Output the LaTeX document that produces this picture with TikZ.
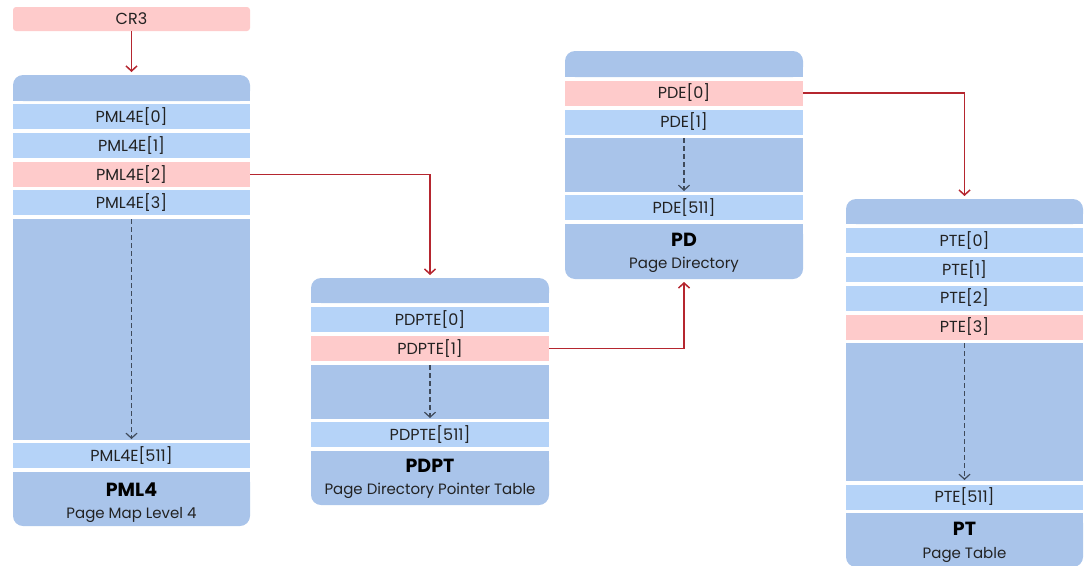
\documentclass[tikz,border=0pt]{standalone}
\usepackage{fontspec}
\setmainfont{Poppins}
\usetikzlibrary{arrows.meta}
\definecolor{hdr}{HTML}{A9C4EA}
\definecolor{ent}{HTML}{B5D3F8}
\definecolor{sel}{HTML}{FECBCB}
\definecolor{lnk}{HTML}{B5262F}
\definecolor{dsh}{HTML}{3F4A5A}
\definecolor{txt}{HTML}{222222}
\begin{document}
\begin{tikzpicture}[x=1pt,y=-1pt,
  cell/.style={inner sep=0pt, outer sep=0pt, text=txt, font=\fontsize{16}{18}\selectfont},
  entry/.style={cell, fill=ent, minimum height=25pt},
  pick/.style={cell, fill=sel, minimum height=25pt},
  gapbox/.style={cell, fill=hdr},
  headbox/.style={cell, fill=hdr, rounded corners=10pt},
  footbox/.style={cell, fill=hdr, rounded corners=10pt},
  title/.style={text=black, inner sep=0pt, font=\fontsize{19}{21}\selectfont\bfseries},
  subtitle/.style={text=txt, inner sep=0pt, font=\fontsize{15}{17}\selectfont},
  link/.style={draw=lnk, line width=1.5pt, -{Straight Barb[length=5pt,width=11pt,line width=1.5pt]}},
  dots/.style={draw=dsh, line width=1.2pt, dash pattern=on 5pt off 3pt, -{Straight Barb[length=5pt,width=11pt,line width=1.2pt]}}
]
\useasboundingbox (0,0) rectangle (1089,565);

% CR3
\node[pick, rounded corners=3pt, minimum width=237pt, minimum height=24pt] (cr3) at (131.5,19) {CR3};

% PML4
\begin{scope}[every node/.append style={minimum width=237pt}]
\node[headbox, minimum height=26pt] (pml4h) at (131.5,88) {};
\fill[hdr] (pml4h.west) rectangle (pml4h.south east);
\node[entry] (pml4e0) at (131.5,116.5) {PML4E[0]};
\node[entry] (pml4e1) at (131.5,145.5) {PML4E[1]};
\node[pick]  (pml4e2) at (131.5,174.5) {PML4E[2]};
\node[entry] (pml4e3) at (131.5,202.5) {PML4E[3]};
\node[gapbox, minimum height=221pt] (pml4g) at (131.5,329.5) {};
\node[entry] (pml4e511) at (131.5,455.5) {PML4E[511]};
\node[footbox, minimum height=54pt] (pml4f) at (131.5,499) {};
\end{scope}
\fill[hdr] (pml4f.north west) rectangle (pml4f.east);
\node[title] (pml4t) at ([yshift=9pt]pml4f.center) {PML4};
\node[subtitle] (pml4s) at ([yshift=-16pt]pml4f.center) {Page Map Level 4};

% PDPT
\begin{scope}[every node/.append style={minimum width=238pt}]
\node[headbox, minimum height=25pt] (pdpth) at (430,290.5) {};
\fill[hdr] (pdpth.west) rectangle (pdpth.south east);
\node[entry] (pdpte0) at (430,319.5) {PDPTE[0]};
\node[pick]  (pdpte1) at (430,348.5) {PDPTE[1]};
\node[gapbox, minimum height=54pt] (pdptg) at (430,392) {};
\node[entry] (pdpte511) at (430,434.5) {PDPTE[511]};
\node[footbox, minimum height=54pt] (pdptf) at (430,478) {};
\end{scope}
\fill[hdr] (pdptf.north west) rectangle (pdptf.east);
\node[title] (pdptt) at ([yshift=12pt]pdptf.center) {PDPT};
\node[subtitle] (pdpts) at ([yshift=-12.5pt]pdptf.center) {Page Directory Pointer Table};

% PD
\begin{scope}[every node/.append style={minimum width=238pt}]
\node[headbox, minimum height=26pt] (pdh) at (684,64) {};
\fill[hdr] (pdh.west) rectangle (pdh.south east);
\node[pick]  (pde0) at (684,93) {PDE[0]};
\node[entry] (pde1) at (684,122) {PDE[1]};
\node[gapbox, minimum height=54pt] (pdg) at (684,165) {};
\node[entry] (pde511) at (684,207.5) {PDE[511]};
\node[footbox, minimum height=55pt] (pdf) at (684,251.5) {};
\end{scope}
\fill[hdr] (pdf.north west) rectangle (pdf.east);
\node[title] (pdt) at ([yshift=11.5pt]pdf.center) {PD};
\node[subtitle] (pds) at ([yshift=-13.5pt]pdf.center) {Page Directory};

% PT
\begin{scope}[every node/.append style={minimum width=237pt}]
\node[headbox, minimum height=25pt] (pth) at (964.5,211.5) {};
\fill[hdr] (pth.west) rectangle (pth.south east);
\node[entry] (pte0) at (964.5,240.5) {PTE[0]};
\node[entry] (pte1) at (964.5,269.5) {PTE[1]};
\node[entry] (pte2) at (964.5,298) {PTE[2]};
\node[pick]  (pte3) at (964.5,327) {PTE[3]};
\node[gapbox, minimum height=138pt] (ptg) at (964.5,412) {};
\node[entry] (pte511) at (964.5,497) {PTE[511]};
\node[footbox, minimum height=54pt] (ptf) at (964.5,540) {};
\end{scope}
\fill[hdr] (ptf.north west) rectangle (ptf.east);
\node[title] (ptt) at ([yshift=11pt]ptf.center) {PT};
\node[subtitle] (pts) at ([yshift=-15pt]ptf.center) {Page Table};

% dashed continuation arrows
\draw[dots] (pml4g.north) -- ([yshift=1pt]pml4g.south);
\draw[dots] (pdptg.north) -- ([yshift=1pt]pdptg.south);
\draw[dots] (pdg.north) -- ([yshift=1pt]pdg.south);
\draw[dots] (ptg.north) -- ([yshift=1pt]ptg.south);

% links
\draw[link, shorten >=3pt] (cr3.south) -- (pml4h.north);
\draw[link, shorten >=3pt] (pml4e2.east) -| (pdpth.north);
\draw[link, shorten >=3pt] (pdpte1.east) -| (pdf.south);
\draw[link, shorten >=3pt] (pde0.east) -| (pth.north);
\end{tikzpicture}
\end{document}
